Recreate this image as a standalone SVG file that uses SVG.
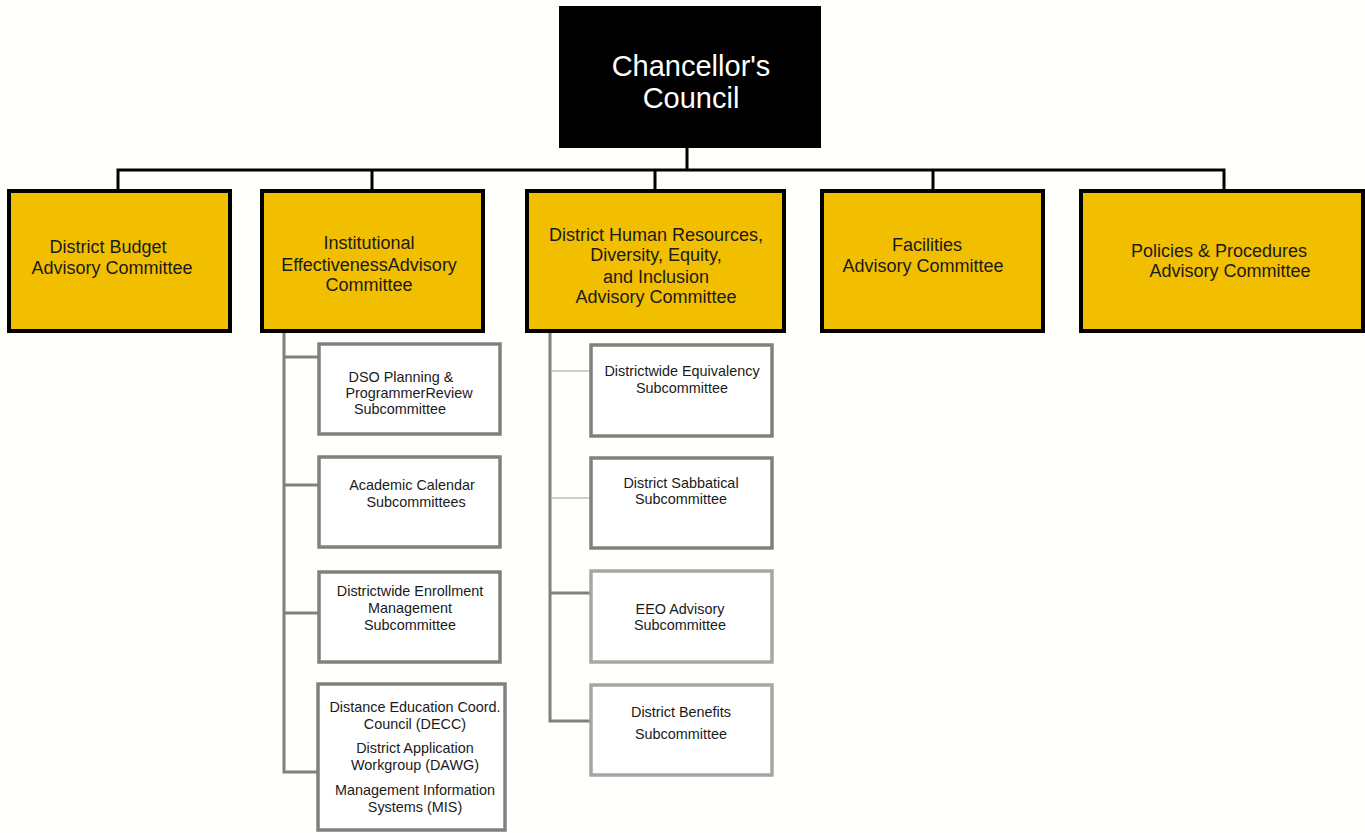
<svg xmlns="http://www.w3.org/2000/svg" width="1365" height="833" viewBox="0 0 1365 833">
<style>
.main{fill:#F2BF00;stroke:#000;stroke-width:4}
.sub{fill:#FFFFFF;stroke:#808080;stroke-width:3.5}
.sub2{fill:#FFFFFF;stroke:#A6A6A6;stroke-width:3.5}
.t{font-family:"Liberation Sans",Arial,sans-serif;font-size:18px;fill:#1a1a1a;text-anchor:middle}
.s{font-family:"Liberation Sans",Arial,sans-serif;font-size:14.4px;fill:#1a1a1a;text-anchor:middle}
.c{fill:none;stroke:#000;stroke-width:3}
.g{fill:none;stroke:#808080;stroke-width:3}
.gl{fill:none;stroke:#A0A0A0;stroke-width:1.2}
</style>
<rect width="1365" height="833" fill="#FFFFFC"/>
<g id="connectors">
<path class="c" d="M687 148V170M118 190V170H1224V190M372 170V190M655 170V190M933 170V190"/>
<path class="g" d="M284 331V772H317M284 357H320M284 485H320M284 613H320"/>
<path class="g" d="M550 331V721H590M550 593H590"/>
<path class="gl" d="M550 371H590M550 498H590"/>
</g>
<g id="chancellor">
<rect x="559" y="6" width="262" height="142" fill="#000"/>
<text x="691" y="76" font-family="Liberation Sans,Arial,sans-serif" font-size="29" fill="#fff" text-anchor="middle">Chancellor's</text>
<text x="691" y="108" font-family="Liberation Sans,Arial,sans-serif" font-size="29" fill="#fff" text-anchor="middle">Council</text>
</g>
<g id="budget">
<rect class="main" x="9" y="191" width="221" height="140"/>
<text class="t" x="108" y="253">District Budget</text>
<text class="t" x="112" y="274">Advisory Committee</text>
</g>
<g id="iea">
<rect class="main" x="262" y="191" width="221" height="140"/>
<text class="t" x="369" y="249">Institutional</text>
<text class="t" x="369" y="271">EffectivenessAdvisory</text>
<text class="t" x="369" y="291">Committee</text>
</g>
<g id="hr">
<rect class="main" x="527" y="191" width="257" height="140"/>
<text class="t" x="656" y="241">District Human Resources,</text>
<text class="t" x="656" y="261">Diversity, Equity,</text>
<text class="t" x="656" y="283">and Inclusion</text>
<text class="t" x="656" y="303">Advisory Committee</text>
</g>
<g id="facilities">
<rect class="main" x="822" y="191" width="221" height="140"/>
<text class="t" x="927" y="251">Facilities</text>
<text class="t" x="923" y="272">Advisory Committee</text>
</g>
<g id="policies">
<rect class="main" x="1081" y="191" width="282" height="140"/>
<text class="t" x="1219" y="257">Policies &amp; Procedures</text>
<text class="t" x="1230" y="277">Advisory Committee</text>
</g>
<g id="dso">
<rect class="sub" x="319" y="344" width="181" height="90"/>
<text class="s" x="401" y="382">DSO Planning &amp;</text>
<text class="s" x="409" y="398">ProgrammerReview</text>
<text class="s" x="400" y="414">Subcommittee</text>
</g>
<g id="calendar">
<rect class="sub" x="319" y="457" width="181" height="90"/>
<text class="s" x="412" y="490">Academic Calendar</text>
<text class="s" x="416" y="507">Subcommittees</text>
</g>
<g id="enrollment">
<rect class="sub" x="319" y="572" width="181" height="90"/>
<text class="s" x="410" y="596">Districtwide Enrollment</text>
<text class="s" x="410" y="613">Management</text>
<text class="s" x="410" y="630">Subcommittee</text>
</g>
<g id="decc">
<rect class="sub" x="318" y="684" width="187" height="146"/>
<text class="s" x="415" y="712">Distance Education Coord.</text>
<text class="s" x="415" y="729">Council (DECC)</text>
<text class="s" x="415" y="753">District Application</text>
<text class="s" x="415" y="770">Workgroup (DAWG)</text>
<text class="s" x="415" y="795">Management Information</text>
<text class="s" x="415" y="812">Systems (MIS)</text>
</g>
<g id="equivalency">
<rect class="sub" x="591" y="345" width="181" height="91"/>
<text class="s" x="682" y="376">Districtwide Equivalency</text>
<text class="s" x="682" y="393">Subcommittee</text>
</g>
<g id="sabbatical">
<rect class="sub" x="591" y="458" width="181" height="90"/>
<text class="s" x="681" y="488">District Sabbatical</text>
<text class="s" x="681" y="504">Subcommittee</text>
</g>
<g id="eeo">
<rect class="sub2" x="591" y="571" width="181" height="91"/>
<text class="s" x="680" y="614">EEO Advisory</text>
<text class="s" x="680" y="630">Subcommittee</text>
</g>
<g id="benefits">
<rect class="sub2" x="591" y="685" width="181" height="90"/>
<text class="s" x="681" y="717">District Benefits</text>
<text class="s" x="681" y="739">Subcommittee</text>
</g>
</svg>
